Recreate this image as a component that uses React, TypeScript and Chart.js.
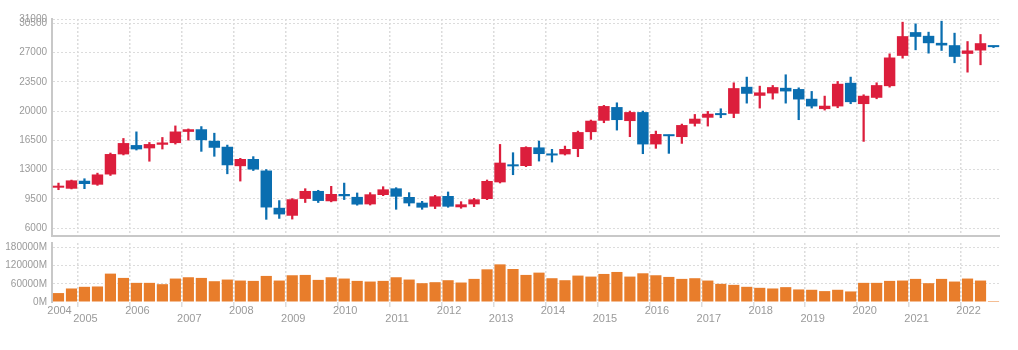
import { useEffect, useRef } from 'react';
import { Chart, registerables } from 'chart.js';

Chart.register(...registerables);

const quarters: string[] = [
  '2004Q3', '2004Q4',
  '2005Q1', '2005Q2', '2005Q3', '2005Q4',
  '2006Q1', '2006Q2', '2006Q3', '2006Q4',
  '2007Q1', '2007Q2', '2007Q3', '2007Q4',
  '2008Q1', '2008Q2', '2008Q3', '2008Q4',
  '2009Q1', '2009Q2', '2009Q3', '2009Q4',
  '2010Q1', '2010Q2', '2010Q3', '2010Q4',
  '2011Q1', '2011Q2', '2011Q3', '2011Q4',
  '2012Q1', '2012Q2', '2012Q3', '2012Q4',
  '2013Q1', '2013Q2', '2013Q3', '2013Q4',
  '2014Q1', '2014Q2', '2014Q3', '2014Q4',
  '2015Q1', '2015Q2', '2015Q3', '2015Q4',
  '2016Q1', '2016Q2', '2016Q3', '2016Q4',
  '2017Q1', '2017Q2', '2017Q3', '2017Q4',
  '2018Q1', '2018Q2', '2018Q3', '2018Q4',
  '2019Q1', '2019Q2', '2019Q3', '2019Q4',
  '2020Q1', '2020Q2', '2020Q3', '2020Q4',
  '2021Q1', '2021Q2', '2021Q3', '2021Q4',
  '2022Q1', '2022Q2', '2022Q3',
];

const openPrices: number[] = [
  10850, 10730, 11680, 11210, 12430, 14830, 15940, 15550, 15980, 16180,
  17520, 17830, 16450, 15740, 13420, 14280, 12900, 8450, 7500, 9510,
  10460, 9230, 10100, 9750, 8860, 9980, 10770, 9740, 9060, 8590,
  9860, 8510, 8860, 9500, 11490, 13640, 13440, 15660, 14780, 14830,
  15470, 17490, 18850, 20480, 18810, 19880, 16020, 17100, 16900, 18490,
  19210, 19680, 19680, 22900, 21830, 22110, 22780, 22630, 21470, 20240,
  20560, 23380, 20840, 21590, 22980, 26600, 29430, 28990, 28150, 27870,
  26840, 27240, 27720,
];

const highPrices: number[] = [
  11400, 11760, 11920, 12590, 14990, 16730, 17520, 16250, 16850, 18230,
  17870, 18150, 17360, 15940, 14360, 14560, 13020, 9310, 9550, 10730,
  10540, 11010, 11400, 10220, 10260, 10970, 10850, 10260, 9220, 9940,
  10340, 9180, 9580, 11770, 16020, 15030, 15740, 16420, 15430, 15820,
  17610, 18930, 20680, 20990, 20000, 20000, 17610, 17140, 18450, 19600,
  19960, 20280, 23380, 24060, 22980, 23060, 24340, 22780, 22350, 21790,
  23540, 24060, 21950, 23380, 26840, 30620, 30420, 29430, 30740, 29310,
  28310, 29150, 27760,
];

const lowPrices: number[] = [
  10610, 10700, 10730, 11130, 12310, 14760, 15350, 14010, 15470, 16060,
  16530, 15190, 14600, 12510, 11640, 12900, 7070, 7180, 7100, 9080,
  9080, 9160, 9430, 8760, 8780, 9900, 8270, 8670, 8270, 8350,
  8510, 8390, 8590, 9420, 11410, 12400, 13360, 14030, 13910, 14750,
  14550, 16620, 18610, 17730, 16940, 14910, 15550, 14950, 16140, 18210,
  18210, 19210, 19210, 20950, 20360, 21430, 20950, 18970, 20360, 20120,
  20400, 20880, 16380, 21470, 22860, 26320, 27320, 26920, 27240, 25770,
  24650, 25530, 27590,
];

const closePrices: number[] = [
  11090, 11720, 11290, 12430, 14870, 16180, 15430, 16060, 16250, 17560,
  17830, 16530, 15620, 13530, 14280, 13020, 8490, 7660, 9470, 10460,
  9270, 10100, 9830, 8840, 10060, 10650, 9780, 8980, 8470, 9820,
  8590, 8860, 9460, 11650, 13840, 13400, 15700, 14870, 14700, 15470,
  17490, 18850, 20600, 18930, 19880, 16020, 17260, 17000, 18330, 19090,
  19680, 19520, 22740, 22070, 22230, 22860, 22350, 21390, 20560, 20640,
  23260, 21070, 21830, 23100, 26400, 28950, 28870, 28110, 27840, 26480,
  27240, 28110, 27640,
];

// volume in millions
const volumes: number[] = [
  29500, 44700, 50200, 51300, 93800, 79600, 63300, 63300, 58900, 77500,
  81800, 79600, 68700, 74200, 70900, 69800, 86200, 70900, 88400, 89500,
  73100, 81800, 77500, 69800, 67600, 69800, 81800, 74200, 62200, 65500,
  72000, 64400, 76400, 108000, 124400, 109100, 89500, 97100, 78600, 72000,
  87300, 84000, 92700, 99300, 84000, 94900, 88400, 82900, 76400, 78600,
  70900, 60000, 56700, 50200, 46900, 44700, 49100, 41500, 40400, 36000,
  40400, 34900, 63300, 63300, 69800, 70900, 76400, 62200, 76400, 67600,
  77500, 70900, 3300,
];

const priceTicks: number[] = [6000, 9500, 13000, 16500, 20000, 23500, 27000, 30500, 31000];
const volumeTicks: number[] = [0, 60000, 120000, 180000];

const UP = '#dc1e3c';
const DOWN = '#0a6eb0';
const VOL = '#e87d2b';
const GRID = '#dcdcdc';
const AXIS = '#c8c8c8';
const LABEL = '#9a9a9a';
const FONT = 'Liberation Sans, Arial, sans-serif';

const isYearStart = (i: number) => i === 0 || quarters[i].endsWith('Q1');

const panePlugin = {
  id: 'panes',
  beforeDatasetsDraw(chart: any) {
    const { ctx, chartArea } = chart;
    const top = chart.scales.y;
    const gap = chart.scales.yGap;
    ctx.save();
    ctx.fillStyle = '#ffffff';
    ctx.fillRect(chartArea.left + 2, gap.top, chartArea.right - chartArea.left, gap.bottom - gap.top);
    ctx.strokeStyle = AXIS;
    ctx.lineWidth = 2;
    ctx.beginPath();
    ctx.moveTo(chartArea.left, top.bottom);
    ctx.lineTo(chartArea.right, top.bottom);
    ctx.stroke();
    ctx.restore();
  },
};

export default function App() {
  const ref = useRef<HTMLCanvasElement | null>(null);

  useEffect(() => {
    if (!ref.current) return;
    const colors = openPrices.map((o, i) => (closePrices[i] >= o ? UP : DOWN));
    const chart = new Chart(ref.current, {
      type: 'bar',
      data: {
        labels: quarters,
        datasets: [
          {
            label: 'body',
            data: openPrices.map((o, i) => [o, closePrices[i]]),
            backgroundColor: colors,
            borderWidth: 0,
            yAxisID: 'y',
            grouped: false,
            categoryPercentage: 1,
            barPercentage: 0.88,
            minBarLength: 2,
            order: 0,
          } as any,
          {
            label: 'wick',
            data: lowPrices.map((l, i) => [l, highPrices[i]]),
            backgroundColor: colors,
            borderWidth: 0,
            yAxisID: 'y',
            grouped: false,
            barThickness: 1.6,
            order: 1,
          } as any,
          {
            label: 'volume',
            data: volumes,
            backgroundColor: VOL,
            borderWidth: 0,
            yAxisID: 'yVol',
            grouped: false,
            categoryPercentage: 1,
            barPercentage: 0.86,
            order: 2,
          } as any,
        ],
      },
      options: {
        animation: false,
        responsive: false,
        devicePixelRatio: 1,
        layout: { padding: { left: 0, top: 19, right: 18, bottom: 18 } },
        plugins: { legend: { display: false }, tooltip: { enabled: false } },
        scales: {
          x: {
            type: 'category',
            offset: true,
            border: { display: false, dash: [2, 2] },
            grid: {
              offset: true,
              lineWidth: 1.5,
              tickLength: 5,
              drawTicks: true,
              color: (c: any) => (c.index > 0 && c.index < quarters.length && isYearStart(c.index) ? GRID : 'rgba(0,0,0,0)'),
            },
            ticks: {
              autoSkip: false,
              maxRotation: 0,
              minRotation: 0,
              padding: 0,
              labelOffset: 1,
              color: LABEL,
              font: { family: FONT, size: 11, lineHeight: '8px' } as any,
              callback: (_v: any, i: number) => {
                if (!isYearStart(i)) return '';
                const year = quarters[i].slice(0, 4);
                return Number(year) % 2 === 0 ? [year] : ['', year];
              },
            },
            afterFit: (s: any) => {
              s.height = 30;
            },
          },
          yVol: {
            type: 'linear',
            position: 'left',
            stack: 'panes',
            stackWeight: 59,
            min: 0,
            max: 195000,
            border: { display: true, color: AXIS, width: 2, dash: [2, 2] },
            grid: {
              color: (c: any) => (c.tick && c.tick.value === 0 ? 'rgba(0,0,0,0)' : GRID),
              lineWidth: 1,
              drawTicks: false,
            },
            ticks: {
              autoSkip: false,
              padding: 5,
              color: LABEL,
              font: { family: FONT, size: 10 },
              callback: (v: any) => `${v}M`,
            },
            afterBuildTicks: (s: any) => {
              s.ticks = volumeTicks.map((v) => ({ value: v }));
            },
            afterFit: (s: any) => {
              s.width = 52;
            },
          },
          yGap: {
            type: 'linear',
            position: 'left',
            stack: 'panes',
            stackWeight: 7,
            border: { display: false },
            grid: { display: false, drawTicks: false },
            ticks: { display: false },
            afterFit: (s: any) => {
              s.width = 52;
            },
          },
          y: {
            type: 'linear',
            position: 'left',
            stack: 'panes',
            stackWeight: 217,
            min: 5080,
            max: 31000,
            border: { display: true, color: AXIS, width: 2, dash: [2, 2] },
            grid: { color: GRID, lineWidth: 1, drawTicks: false },
            ticks: {
              autoSkip: false,
              padding: 5,
              color: LABEL,
              font: { family: FONT, size: 10 },
              callback: (v: any) => String(v),
            },
            afterBuildTicks: (s: any) => {
              s.ticks = priceTicks.map((v) => ({ value: v }));
            },
            afterFit: (s: any) => {
              s.width = 52;
            },
          },
        },
      } as any,
      plugins: [panePlugin],
    });
    return () => chart.destroy();
  }, []);

  return (
    <canvas
      ref={ref}
      width={1018}
      height={350}
      style={{ position: 'absolute', left: 0, top: 0, display: 'block', width: 1018, height: 350 }}
    />
  );
}
